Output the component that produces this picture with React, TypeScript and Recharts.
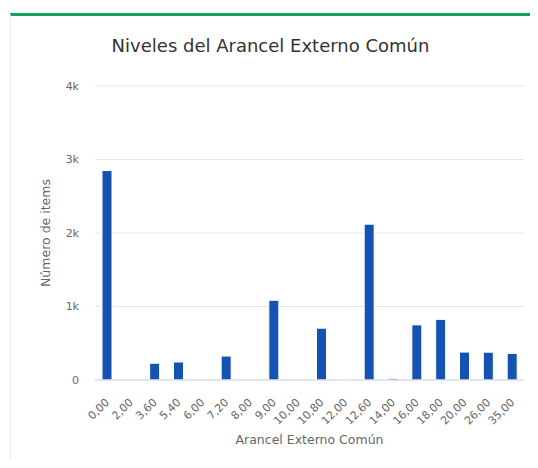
import React from 'react';
import { BarChart, Bar, XAxis, YAxis, CartesianGrid, Label } from 'recharts';

const aranceles = [
  '0,00', '2,00', '3,60', '5,40', '6,00', '7,20', '8,00', '9,00', '10,00',
  '10,80', '12,00', '12,60', '14,00', '16,00', '18,00', '20,00', '26,00', '35,00',
];
const items = [
  2850, 0, 228, 245, 0, 326, 0, 1085, 0, 705, 5, 2120, 22, 750, 825, 380, 378, 362,
];
const yTicks = [0, 1000, 2000, 3000, 4000];

const data = aranceles.map((a, i) => ({ arancel: a, items: items[i] }));

const FONT = '"DejaVu Sans", sans-serif';

const RotatedTick = (props: any) => {
  const { x, y, payload } = props;
  return (
    <g transform={`translate(${x + 3},${y + 15})`}>
      <text
        x={0}
        y={0}
        textAnchor="end"
        transform="rotate(-45)"
        fill="#666666"
        fontSize={11}
        fontFamily={FONT}
      >
        {payload.value}
      </text>
    </g>
  );
};

export default function App() {
  return (
    <div style={{ position: 'relative', width: 538, height: 468, margin: -8, background: '#fff', overflow: 'hidden' }}>
      <div
        style={{
          position: 'absolute',
          left: 10,
          top: 13,
          width: 528,
          height: 455,
          borderTop: '3px solid #11a35b',
          borderLeft: '1px solid #efefef',
          boxSizing: 'border-box',
        }}
      />
      <div
        style={{
          position: 'absolute',
          left: 0,
          width: 541,
          top: 35,
          textAlign: 'center',
          fontFamily: FONT,
          fontSize: 18,
          color: '#333333',
        }}
      >
        Niveles del Arancel Externo Común
      </div>
      <div style={{ position: 'absolute', left: 0, top: 0 }}>
        <BarChart
          width={538}
          height={468}
          data={data}
          margin={{ top: 86, right: 14, bottom: 0, left: 0 }}
          barSize={10}
        >
          <CartesianGrid vertical={false} stroke="#e6e6e6" />
          <XAxis
            dataKey="arancel"
            interval={0}
            height={88}
            tickLine={false}
            axisLine={{ stroke: '#ccd6eb' }}
            tick={<RotatedTick />}
          >
            <Label
              value="Arancel Externo Común"
              position="insideBottom"
              offset={24}
              fill="#666666"
              fontSize={12.5}
              fontFamily={FONT}
            />
          </XAxis>
          <YAxis
            width={95}
            domain={[0, 4000]}
            ticks={yTicks}
            tickLine={false}
            axisLine={false}
            tickMargin={10}
            tickFormatter={(v: number) => (v === 0 ? '0' : `${v / 1000}k`)}
            tick={{ fill: '#666666', fontSize: 11, fontFamily: FONT }}
          >
            <Label
              value="Número de items"
              angle={-90}
              position="center"
              dx={-2}
              fill="#666666"
              fontSize={12.5}
              fontFamily={FONT}
            />
          </YAxis>
          <Bar dataKey="items" fill="#1553b3" stroke="#ffffff" strokeWidth={1} isAnimationActive={false} />
        </BarChart>
      </div>
    </div>
  );
}
